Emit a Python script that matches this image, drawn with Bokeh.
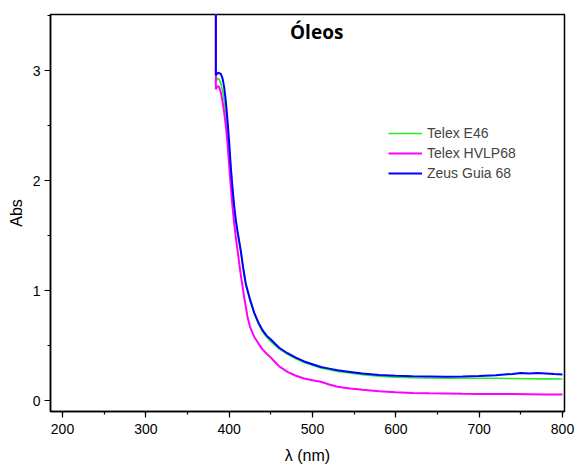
from bokeh.plotting import figure
from bokeh.models import Range1d, SingleIntervalTicker, Legend, LegendItem, Label
from bokeh.embed import file_html
from bokeh.resources import INLINE

# Data (wavelength nm, absorbance)
wl_e46 = [384, 384, 386, 388, 390, 392, 394, 396, 398, 400, 402, 404, 406, 408, 410, 412, 414, 416, 418, 420,
          425, 430, 435, 440, 445, 450, 460, 470, 480, 490, 500, 510, 520, 530, 545, 560, 580, 600, 620, 640,
          660, 680, 700, 720, 740, 760, 780, 800]
abs_e46 = [6.0, 2.90, 2.93, 2.92, 2.88, 2.82, 2.73, 2.62, 2.47, 2.30, 2.10, 1.92, 1.76, 1.63, 1.53, 1.44, 1.35, 1.24, 1.14, 1.05,
           0.91, 0.79, 0.70, 0.625, 0.575, 0.535, 0.47, 0.42, 0.38, 0.345, 0.32, 0.295, 0.28, 0.265, 0.25, 0.235, 0.222, 0.212, 0.207, 0.204,
           0.202, 0.202, 0.203, 0.202, 0.200, 0.198, 0.197, 0.196]

wl_hvlp = [384, 384, 386, 388, 390, 392, 394, 396, 398, 400, 402, 404, 406, 408, 410, 412, 414, 416, 418, 420,
           422, 425, 430, 435, 440, 445, 450, 455, 460, 470, 480, 490, 500, 510, 520, 530, 545, 560, 580, 600,
           620, 640, 660, 680, 700, 720, 740, 760, 780, 800]
abs_hvlp = [6.0, 2.83, 2.86, 2.85, 2.80, 2.72, 2.62, 2.50, 2.34, 2.14, 1.94, 1.76, 1.61, 1.48, 1.37, 1.25, 1.14, 1.04, 0.94, 0.85,
            0.76, 0.67, 0.58, 0.52, 0.465, 0.425, 0.39, 0.35, 0.31, 0.26, 0.225, 0.20, 0.185, 0.17, 0.145, 0.125, 0.11, 0.098, 0.085, 0.075,
            0.068, 0.065, 0.063, 0.061, 0.060, 0.058, 0.058, 0.057, 0.055, 0.054]

wl_zeus = [384, 384, 387, 390, 392, 394, 396, 398, 400, 402, 404, 406, 408, 410, 412, 414, 416, 418, 420,
           425, 430, 435, 440, 445, 450, 460, 470, 480, 490, 500, 510, 520, 530, 545, 560, 580, 600, 620, 640,
           660, 680, 700, 720, 740, 750, 760, 770, 780, 790, 800]
abs_zeus = [6.0, 2.96, 2.98, 2.97, 2.93, 2.85, 2.72, 2.55, 2.35, 2.12, 1.93, 1.77, 1.64, 1.54, 1.45, 1.36, 1.25, 1.15, 1.06,
            0.92, 0.80, 0.71, 0.64, 0.59, 0.555, 0.48, 0.43, 0.39, 0.355, 0.33, 0.305, 0.29, 0.275, 0.26, 0.245, 0.232, 0.225, 0.220, 0.218,
            0.216, 0.218, 0.222, 0.230, 0.242, 0.250, 0.246, 0.250, 0.246, 0.240, 0.236]

series_names = ["Telex E46", "Telex HVLP68", "Zeus Guia 68"]
title_text = "Óleos"
x_title = "λ (nm)"
y_title = "Abs"

p = figure(width=577, height=466, output_backend="svg", toolbar_location=None,
           x_range=Range1d(185.6, 802.4), y_range=Range1d(-0.1, 3.51),
           min_border_left=50, min_border_right=13, min_border_top=14, min_border_bottom=55)
p.background_fill_color = "white"
p.border_fill_color = "white"
p.xgrid.visible = False
p.ygrid.visible = False
p.outline_line_color = "black"
p.outline_line_width = 1.5

p.xaxis.ticker = SingleIntervalTicker(interval=100, num_minor_ticks=2)
p.yaxis.ticker = SingleIntervalTicker(interval=1, num_minor_ticks=2)
for ax in (p.xaxis, p.yaxis):
    ax.axis_line_color = "black"
    ax.axis_line_width = 1.5
    ax.major_tick_line_color = "black"
    ax.minor_tick_line_color = "black"
    ax.major_tick_line_width = 1.2
    ax.minor_tick_line_width = 1.2
    ax.major_tick_out = 6
    ax.major_tick_in = 0
    ax.minor_tick_out = 3
    ax.minor_tick_in = 0
    ax.major_label_text_font = "Liberation Sans"
    ax.major_label_text_font_size = "14px"
    ax.major_label_text_color = "black"
    ax.axis_label_text_font = "Liberation Sans"
    ax.axis_label_text_font_size = "16px"
    ax.axis_label_text_font_style = "normal"
    ax.axis_label_text_color = "black"
p.xaxis.axis_label = x_title
p.yaxis.axis_label = y_title
p.xaxis.major_label_standoff = 6
p.xaxis.axis_label_standoff = 10
p.yaxis.major_label_standoff = 4
p.yaxis.axis_label_standoff = 5

r1 = p.line(wl_e46, abs_e46, line_color="#22ee22", line_width=1.6)
r2 = p.line(wl_hvlp, abs_hvlp, line_color="#ff00ff", line_width=2)
r3 = p.line(wl_zeus, abs_zeus, line_color="#0000ff", line_width=2)

legend = Legend(items=[LegendItem(label=series_names[0], renderers=[r1]),
                       LegendItem(label=series_names[1], renderers=[r2]),
                       LegendItem(label=series_names[2], renderers=[r3])],
                location=(338, 228), background_fill_alpha=0, border_line_alpha=0,
                padding=0, margin=0, spacing=0, glyph_width=34, glyph_height=20,
                label_height=20, label_standoff=5,
                label_text_font="Liberation Sans", label_text_font_size="14px")
p.add_layout(legend)

p.add_layout(Label(x=505, y=3.355, text=title_text, text_align="center", text_baseline="middle",
                   text_font="Open Sans", text_font_style="bold", text_font_size="19px", text_color="black"))

open("out.html", "w").write(file_html(p, INLINE))
